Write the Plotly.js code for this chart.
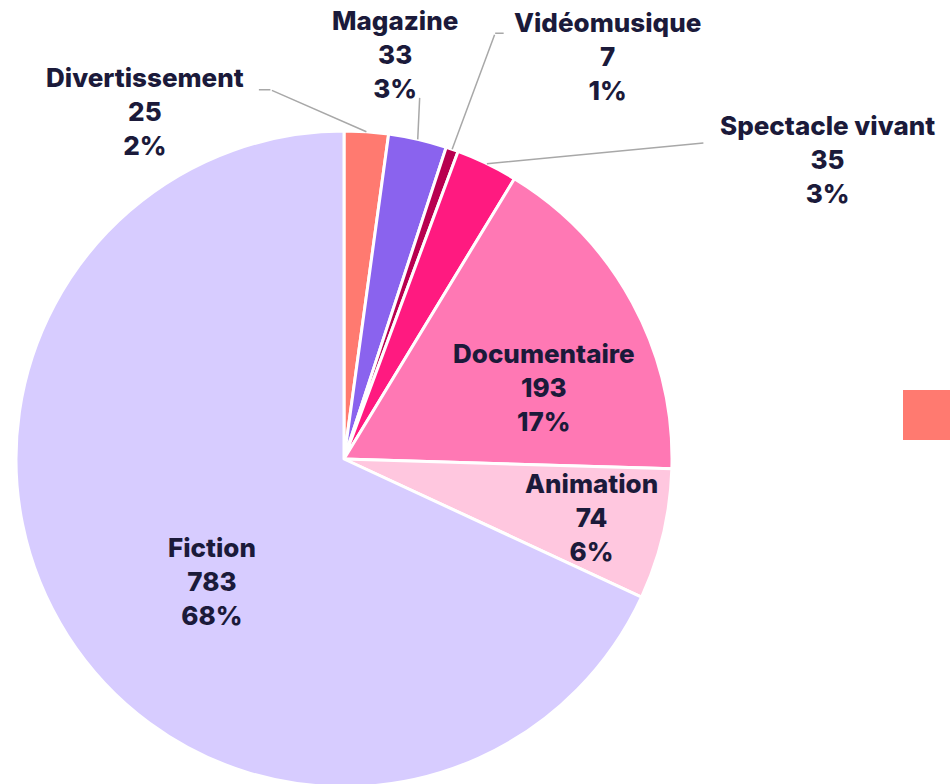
<!DOCTYPE html>
<html>
<head>
<meta charset="utf-8">
<script src="https://cdn.plot.ly/plotly-3.0.1.min.js"></script>
<style>
  html, body { margin: 0; padding: 0; background: #fff; overflow: hidden; }
  #chart { width: 950px; height: 792px; }
</style>
</head>
<body>
<div id="chart"></div>
<script>
// Programmes par genre, clockwise from 12 o'clock
const genres = ['Divertissement', 'Magazine', 'Vidéomusique', 'Spectacle vivant', 'Documentaire', 'Animation', 'Fiction'];
const counts = [25, 33, 7, 35, 193, 74, 783];
const colors = ['#ff7a70', '#8a63ee', '#b8004f', '#ff1a80', '#ff78b4', '#ffc7df', '#d7ccff'];

// label placement, px from the anchor on the slice's mid angle (screen y down).
// anchor radius: 1 = slice edge (outside labels get a leader line), <1 = inside
const labelRadius = [1, 1, 1, 1, 0.65, 0.775, 0.55];
const labelOffset = [[-221, -20], [-23, -85], [155, -93], [341, -4], [13, 30], [0, 0], [20, 25]];
const leaderElbow = [[-96, -42], [2, -43], [43, -116], [218, -21], null, null, null];
const leaderStub = [-13, 0, 10, 0, 0, 0, 0];

const W = 950, H = 792;
const ink = '#1b1a3a';
const font = { family: 'Inter, Roboto, sans-serif', size: 26, color: ink, weight: 800 };
const lineStyle = { showarrow: true, arrowhead: 0, arrowwidth: 1.5, arrowcolor: '#a8a8a8', standoff: 0, startstandoff: 0 };
const dom = { x: [16 / W, 672 / W], y: [5 / H, 661 / H] };

const total = counts.reduce((a, b) => a + b, 0);
const R = Math.min((dom.x[1] - dom.x[0]) * W, (dom.y[1] - dom.y[0]) * H) / 2;
const cx = (dom.x[0] + dom.x[1]) / 2 * W;
const cy = H - (dom.y[0] + dom.y[1]) / 2 * H;

const annotations = [];
let cum = 0;
counts.forEach((v, i) => {
  const th = 2 * Math.PI * (cum + v / 2) / total;
  cum += v;
  const r = R * labelRadius[i];
  const px = cx + r * Math.sin(th), py = cy - r * Math.cos(th);
  annotations.push({
    xref: 'paper', yref: 'paper', x: px / W, y: (H - py) / H,
    xshift: labelOffset[i][0], yshift: -labelOffset[i][1],
    text: `${genres[i]}<br>${v}<br>${Math.round(100 * v / total)}%`,
    font: font, xanchor: 'center', yanchor: 'middle', align: 'center', showarrow: false,
  });
  const el = leaderElbow[i];
  if (el) {
    annotations.push(Object.assign({
      xref: 'paper', yref: 'paper', x: px / W, y: (H - py) / H, text: '', ax: el[0], ay: el[1],
    }, lineStyle));
    if (leaderStub[i]) {
      annotations.push(Object.assign({
        xref: 'paper', yref: 'paper', x: (px + el[0]) / W, y: (H - py - el[1]) / H, text: '',
        ax: leaderStub[i], ay: 0,
      }, lineStyle));
    }
  }
});

const trace = {
  type: 'pie',
  labels: genres,
  values: counts,
  sort: false,
  direction: 'clockwise',
  rotation: 0,
  marker: { colors: colors, line: { color: '#ffffff', width: 3 } },
  textinfo: 'none',
  hoverinfo: 'label+value+percent',
  domain: dom,
  showlegend: false,
};

Plotly.newPlot('chart', [trace], {
  width: W, height: H,
  margin: { l: 0, r: 0, t: 0, b: 0 },
  paper_bgcolor: '#ffffff',
  showlegend: false,
  annotations: annotations,
  // legend swatch, cut off at the right edge
  shapes: [{
    type: 'rect', xref: 'paper', yref: 'paper',
    x0: 903 / W, x1: 1.02, y0: (H - 440) / H, y1: (H - 390) / H,
    fillcolor: colors[0], line: { width: 0 },
  }],
}, { displayModeBar: false, staticPlot: true });
</script>
</body>
</html>
